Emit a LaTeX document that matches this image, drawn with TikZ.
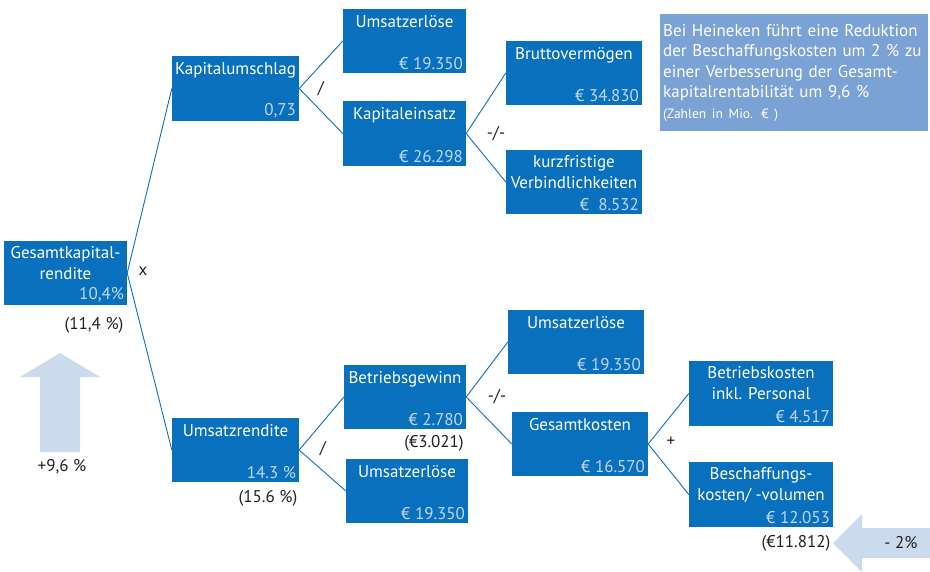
\documentclass[tikz,border=0pt]{standalone}
\usepackage{fontspec}
\setmainfont{PT Sans}
\definecolor{boxblue}{HTML}{0870BD}
\definecolor{valblue}{HTML}{C3D5EE}
\definecolor{infoblue}{HTML}{7AA2D4}
\definecolor{arrowblue}{HTML}{CCDAEE}
\definecolor{labelgray}{HTML}{231F20}
\begin{document}
\begin{tikzpicture}
        [
            x=1pt, y=-1pt,
            font=\fontsize{17}{21}\selectfont,
            box/.style={rectangle, fill=boxblue, inner sep=0pt, minimum width=123pt, minimum height=64pt},
            ttl/.style={anchor=north, align=center, text=white, inner sep=0pt, yshift=-6.5pt},
            val/.style={anchor=south east, text=valblue, inner sep=3pt},
            lbl/.style={text=labelgray, inner sep=1pt},
            link/.style={draw=boxblue, line width=0.9pt}
        ]
        \useasboundingbox (0,0) rectangle (930,571);
        % Gesamtkapitalrendite
        \node[box] (gkr) at (65.5,273) {};
        \node[ttl, yshift=1.5pt] (gkr-t) at (gkr.north) {Gesamtkapital-\\rendite};
        \node[val] (gkr-v) at (gkr.south east) {10,4\%};
        \node[lbl] (gkr-x) at (143,271) {x};
        \node[lbl] (gkr-alt) at (94,325) {(11,4 \%)};
        % Kapitalumschlag
        \node[box, minimum width=127pt, minimum height=65pt] (kum) at (235.5,88.5) {};
        \node[ttl] (kum-t) at (kum.north) {Kapitalumschlag};
        \node[val] (kum-v) at (kum.south east) {0,73};
        \node[lbl] (kum-op) at (321,89) {/};
        \node[box] (ue1) at (404.5,41) {};
        \node[ttl] (ue1-t) at (ue1.north) {Umsatzerlöse};
        \node[val] (ue1-v) at (ue1.south east) {€ 19.350};
        \node[box, minimum height=65pt] (kei) at (404.5,133.5) {};
        \node[ttl] (kei-t) at (kei.north) {Kapitaleinsatz};
        \node[val] (kei-v) at (kei.south east) {€ 26.298};
        \node[lbl] (kei-op) at (496,134) {-/-};
        \node[box, minimum width=136pt] (bvm) at (574,73) {};
        \node[ttl] (bvm-t) at (bvm.north) {Bruttovermögen};
        \node[val] (bvm-v) at (bvm.south east) {€ 34.830};
        \node[box, minimum width=136pt] (kfv) at (574,182) {};
        \node[ttl, yshift=1.5pt] (kfv-t) at (kfv.north) {kurzfristige\\Verbindlichkeiten};
        \node[val] (kfv-v) at (kfv.south east) {€\ \ 8.532};
        % Umsatzrendite
        \node[box, minimum width=127pt] (urd) at (235.5,450) {};
        \node[ttl] (urd-t) at (urd.north) {Umsatzrendite};
        \node[val] (urd-v) at (urd.south east) {14.3 \%};
        \node[lbl] (urd-alt) at (268,498) {(15.6 \%)};
        \node[lbl] (urd-op) at (323,449) {/};
        \node[box, minimum width=122pt] (bgw) at (405,397) {};
        \node[ttl] (bgw-t) at (bgw.north) {Betriebsgewinn};
        \node[val] (bgw-v) at (bgw.south east) {€ 2.780};
        \node[lbl] (bgw-alt) at (434,443) {(€3.021)};
        \node[lbl] (bgw-op) at (497,397) {-/-};
        \node[box, minimum width=122pt] (ue2) at (407,491) {};
        \node[ttl] (ue2-t) at (ue2.north) {Umsatzerlöse};
        \node[val] (ue2-v) at (ue2.south east) {€ 19.350};
        \node[box, minimum width=136pt] (ue3) at (576,342) {};
        \node[ttl] (ue3-t) at (ue3.north) {Umsatzerlöse};
        \node[val] (ue3-v) at (ue3.south east) {€ 19.350};
        \node[box, minimum width=136pt] (gko) at (580,444) {};
        \node[ttl] (gko-t) at (gko.north) {Gesamtkosten};
        \node[val] (gko-v) at (gko.south east) {€ 16.570};
        \node[lbl] (gko-op) at (671,442) {+};
        \node[box, minimum width=144pt, minimum height=65pt] (bko) at (761,393.5) {};
        \node[ttl, yshift=1.5pt] (bko-t) at (bko.north) {Betriebskosten\\inkl. Personal};
        \node[val] (bko-v) at (bko.south east) {€ 4.517};
        \node[box, minimum width=144pt, minimum height=65pt] (bsk) at (761,494.5) {};
        \node[ttl, yshift=1.5pt] (bsk-t) at (bsk.north) {Beschaffungs-\\kosten/ -volumen};
        \node[val] (bsk-v) at (bsk.south east) {€ 12.053};
        \node[lbl] (bsk-alt) at (796,543) {(€11.812)};
        % links
        \draw[link] (kum.west) -- (gkr.east) -- (urd.west);
        \draw[link] (ue1.west) -- (kum.east) -- (kei.west);
        \draw[link] (bvm.west) -- (kei.east) -- (kfv.west);
        \draw[link] (bgw.west) -- (urd.east) -- (ue2.west);
        \draw[link] (ue3.west) -- (bgw.east) -- (gko.west);
        \draw[link] (bko.west) -- (gko.east) -- (bsk.west);
        % arrows
        \fill[arrowblue] (60,353) -- (100,377) -- (80,377) -- (80,452) -- (40,452) -- (40,377) -- (20,377) -- cycle;
        \node[lbl] (up-l) at (62,467) {+9,6 \%};
        \fill[arrowblue] (833,543) -- (862,514) -- (862,528) -- (930,528) -- (930,558) -- (862,558) -- (862,572) -- cycle;
        \node[lbl] (left-l) at (901,543) {- 2\%};
        % info
        \node[rectangle, fill=infoblue, text=white, anchor=north west, minimum width=268pt, minimum height=117pt,
              align=left, text width=262pt, inner sep=3pt, font=\fontsize{17}{20.5}\selectfont] (info) at (660,14)
              {Bei Heineken führt eine Reduktion\\der Beschaffungskosten um 2 \% zu\\einer Verbesserung der Gesamt-\\kapitalrentabilität um 9,6 \%\\{\fontsize{13.5}{20}\selectfont (Zahlen in Mio. € )}};
    \end{tikzpicture}
\end{document}
